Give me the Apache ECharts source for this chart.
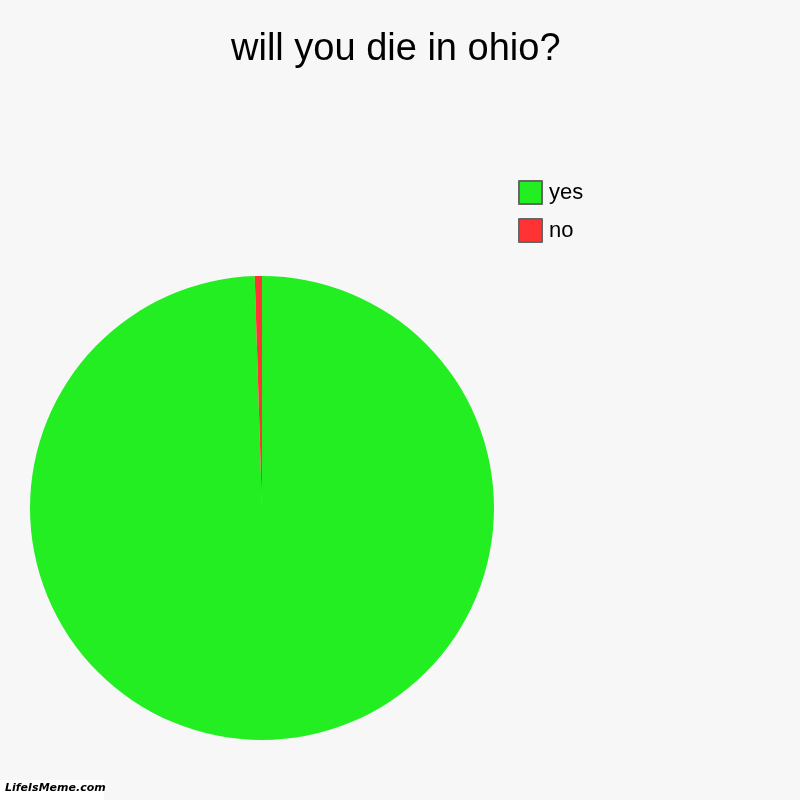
<!DOCTYPE html>
<html><head><meta charset="utf-8">
<script src="https://cdn.jsdelivr.net/npm/echarts@6/dist/echarts.min.js"></script>
<style>html,body{margin:0;padding:0;background:#f7f7f7}#c{width:800px;height:800px}</style>
</head><body><div id="c"></div>
<script>
const categories = ['yes', 'no'];
const values = [199, 1];
const colors = ['#22ee22', '#ff3333'];

const chart = echarts.init(document.getElementById('c'));
chart.setOption({
  backgroundColor: '#f7f7f7',
  animation: false,
  title: {
    text: 'will you die in ohio?',
    left: 226, top: 26,
    textStyle: { fontFamily: 'Liberation Sans, Arial, sans-serif', fontSize: 38, fontWeight: 'normal', color: '#000' }
  },
  legend: {
    orient: 'vertical', left: 513, top: 175,
    itemWidth: 23, itemHeight: 23, itemGap: 13,
    icon: 'rect',
    itemStyle: { borderColor: '#666', borderWidth: 2 },
    textStyle: { fontFamily: 'Liberation Sans, Arial, sans-serif', fontSize: 22, color: '#000', padding: [0, 0, 0, 2] },
    data: categories
  },
  graphic: [{
    type: 'rect', left: 0, top: 780, shape: { width: 104, height: 20 }, style: { fill: '#fff' }
  }, {
    type: 'text', left: 5, top: 783,
    style: { text: 'LifeIsMeme.com', font: 'italic bold 11px "DejaVu Sans", sans-serif', fill: '#000' }
  }],
  series: [{
    type: 'pie',
    center: [262, 508], radius: 232,
    startAngle: 90, clockwise: true,
    label: { show: false }, labelLine: { show: false },
    emphasis: { disabled: true },
    itemStyle: { borderWidth: 0 },
    data: categories.map((c, i) => ({ name: c, value: values[i], itemStyle: { color: colors[i] } }))
  }]
});
</script></body></html>
